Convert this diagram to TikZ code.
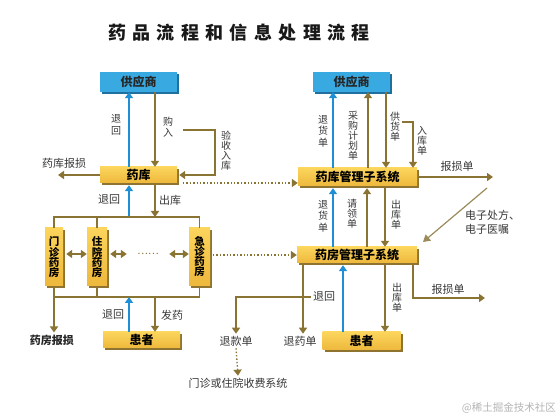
\documentclass[tikz,border=0pt]{standalone}
\usepackage{fontspec}
\setmainfont{Noto Sans CJK SC}
\usetikzlibrary{arrows.meta,shadows}
\definecolor{brn}{HTML}{8A7433}
\definecolor{blu}{HTML}{1E8FD5}
\definecolor{boxb}{HTML}{38A9E1}
\definecolor{shb}{HTML}{1F6F9F}
\definecolor{ytop}{HTML}{FCD55C}
\definecolor{ybot}{HTML}{EDB83C}
\definecolor{shy}{HTML}{8E7430}
\definecolor{lbl}{HTML}{383838}
\definecolor{diagc}{HTML}{9B8B5A}
\definecolor{wm}{HTML}{B4B4B4}
\begin{document}
\begin{tikzpicture}[x=1pt,y=-1pt,
  tip/.style={-{Triangle[width=8pt,length=6pt]}},
  arr/.style={draw=brn, line width=1.8pt, tip},
  bar/.style={draw=blu, line width=1.8pt, tip},
  line/.style={draw=brn, line width=1.8pt},
  dbl/.style={draw=brn, line width=1.8pt, {Triangle[width=8pt,length=6pt]}-{Triangle[width=8pt,length=6pt]}},
  darr/.style={draw=brn, line width=1.4pt, dotted, -{Triangle[width=8pt,length=6pt]}},
  diag/.style={draw=diagc, line width=1.2pt, -{Triangle[width=8pt,length=7pt]}},
  ybox/.style={top color=ytop, bottom color=ybot, draw=none, inner sep=0pt,
    font=\fontsize{12}{12}\selectfont\bfseries, text=black,
    general shadow={fill=shy, shadow xshift=2pt, shadow yshift=-2pt}},
  bbox/.style={fill=boxb, draw=none, inner sep=0pt,
    font=\fontsize{12}{12}\selectfont\bfseries, text=black!85,
    general shadow={fill=shb, shadow xshift=2pt, shadow yshift=-2pt}},
  vbox/.style={ybox, align=center, font=\fontsize{10.5}{10}\selectfont\bfseries},
  lab/.style={font=\fontsize{11}{12}\selectfont, text=lbl, inner sep=2pt},
  vlab/.style={font=\fontsize{10}{11.5}\selectfont, text=lbl, align=center, text width=10pt, inner sep=1pt},
  vlabc/.style={vlab, font=\fontsize{10}{10}\selectfont},
]
\useasboundingbox[fill=white] (0,0) rectangle (558,419);

% title
\node[inner sep=0pt, font=\fontsize{18}{18}\selectfont\bfseries, text=black!90] (title) at (239,33)
  {\makebox[262pt][s]{药\hfill 品\hfill 流\hfill 程\hfill 和\hfill 信\hfill 息\hfill 处\hfill 理\hfill 流\hfill 程}};

% boxes
\node[bbox, minimum width=77pt, minimum height=20pt] (supL) at (138.5,82) {供应商};
\node[ybox, minimum width=77pt, minimum height=16pt] (kuL) at (138.5,175) {药库};
\node[bbox, minimum width=77pt, minimum height=20pt] (supR) at (351.5,82) {供应商};
\node[ybox, minimum width=119pt, minimum height=18pt] (kuSys) at (357.5,177) {药库管理子系统};
\node[ybox, minimum width=120pt, minimum height=16pt] (fangSys) at (357,255) {药房管理子系统};
\node[vbox, minimum width=18pt, minimum height=58pt] (mz) at (54,257) {门\\诊\\药\\房};
\node[vbox, minimum width=20pt, minimum height=58pt] (zy) at (97,257) {住\\院\\药\\房};
\node[vbox, minimum width=21pt, minimum height=58pt] (jz) at (199.5,257) {急\\诊\\药\\房};
\node[ybox, minimum width=77pt, minimum height=16pt] (patL) at (141.5,340) {患者};
\node[ybox, minimum width=78pt, minimum height=18pt] (patR) at (361.5,341) {患者};

% plain text nodes
\node[lab] (kbs) at (64,163) {药库报损};
\node[lab, font=\fontsize{11}{12}\selectfont\bfseries, text=black!85] (yfbs) at (52,340) {药房报损};
\node[lab] (tuiyao) at (300,341) {退药单};
\node[lab] (tuikuan) at (236,341) {退款单};
\node[lab] (fee) at (238,383) {门诊或住院收费系统};
\node[lab] (lr) at (324,297) {退回};
\node[inner sep=0pt, minimum width=42pt, text=brn, font=\fontsize{10}{10}\selectfont] (dots) at (148,254) {……};

% labels
\node[vlab] at (116,125) {退\\回};
\node[vlab] at (168,127) {购\\入};
\node[vlabc] at (226,151) {验\\收\\入\\库};
\node[vlab] at (323,131) {退\\货\\单};
\node[vlabc] at (353,136) {采\\购\\计\\划\\单};
\node[vlabc] at (395,127) {供\\货\\单};
\node[vlabc] at (422,141) {入\\库\\单};
\node[lab] at (457,166) {报损单};
\node[vlab] at (323,216) {退\\货\\单};
\node[vlabc] at (352,214) {请\\领\\单};
\node[vlabc] at (396,215) {出\\库\\单};
\node[lab, anchor=west, align=left, font=\fontsize{11}{14}\selectfont] at (463,222) {电子处方、\\电子医嘱};
\node[vlabc] at (397,298) {出\\库\\单};
\node[lab] at (448,289) {报损单};
\node[lab] at (109,200) {退回};
\node[lab] at (170,200) {出库};
\node[lab] at (113,315) {退回};
\node[lab] at (172,315) {发药};
\node[font=\fontsize{10.5}{12}\selectfont, text=wm, anchor=east, inner sep=0pt] (wmk) at (556,408) {@稀土掘金技术社区};

% helper coordinates
\coordinate (xa) at (129,0);
\coordinate (xb) at (155,0);
\coordinate (r1) at (333,0);
\coordinate (r2) at (368,0);
\coordinate (r3) at (386,0);
\coordinate (r4) at (413,0);
\coordinate (r2b) at (367,0);
\coordinate (r3b) at (385,0);
\coordinate (s1) at (303,0);
\coordinate (s2) at (343,0);
\coordinate (bt) at (0,217);
\coordinate (bb) at (0,297);

% left top
\draw[bar] (kuL.north -| xa) -- (supL.south -| xa);
\draw[arr] (supL.south -| xb) -- (kuL.north -| xb);
\coordinate (ys) at (183,130);
\draw[arr] (ys) -- (215,130) |- ([xshift=2pt]kuL.east);
\coordinate (kbsEnd) at (58,175);
\draw[arr] (kuL.west) -- (kbsEnd);
\coordinate (d1) at (183,183);
\draw[darr] (d1) -- (d1 -| kuSys.west);

% right top
\draw[bar] (kuSys.north -| r1) -- (supR.south -| r1);
\draw[arr] (kuSys.north -| r2) -- (supR.south -| r2);
\draw[arr] (supR.south -| r3) -- (kuSys.north -| r3);
\coordinate (rk) at (402,122);
\draw[arr] (rk) -| (kuSys.north -| r4);
\coordinate (bs1) at (493,177);
\draw[arr] ([xshift=2pt]kuSys.east) -- (bs1);

% middle right
\draw[bar] (fangSys.north -| r1) -- ([yshift=-2pt]kuSys.south -| r1);
\draw[arr] (fangSys.north -| r2b) -- ([yshift=-2pt]kuSys.south -| r2b);
\draw[arr] ([yshift=-2pt]kuSys.south -| r3b) -- (fangSys.north -| r3b);
\coordinate (eS) at (487,188);
\coordinate (eE) at (423,242);
\draw[diag] (eS) -- (eE);
\coordinate (d2) at (213,255);
\draw[darr] (d2) -- (d2 -| fangSys.west);

% lower right
\draw[arr] ([yshift=-2pt]fangSys.south -| s1) -- (tuiyao.north -| s1);
\draw[arr] (lr.west) -| (tuikuan.north);
\draw[bar] (patR.north -| s2) -- ([yshift=-2pt]fangSys.south -| s2);
\draw[arr] ([yshift=-2pt]fangSys.south -| r3b) -- (patR.north -| r3b);
\coordinate (bs2) at (485,298);
\draw[arr] ([yshift=-2pt]fangSys.south -| r4) |- (bs2);
\draw[darr] (tuikuan.south) -- (fee.north);

% left middle
\coordinate (bta) at (xa |- bt);
\draw[bar] (bta) -- ([yshift=-2pt]kuL.south -| xa);
\draw[arr] ([yshift=-2pt]kuL.south -| xb) -- (xb |- bt);
\draw[line] (mz.north) -- (mz.north |- bt) -- (jz.north |- bt) -- (jz.north);
\draw[line] (zy.north) -- (zy.north |- bt);
\draw[dbl] ([xshift=3pt,yshift=3pt]mz.east) -- ([yshift=3pt]zy.west);
\draw[dbl] ([xshift=3pt,yshift=3pt]zy.east) -- (dots.west);
\draw[dbl] (dots.east) -- ([yshift=3pt]jz.west);

% left bottom
\draw[line] ([yshift=-2pt]mz.south) -- (mz.south |- bb) -- (jz.south |- bb) -- ([yshift=-2pt]jz.south);
\draw[line] ([yshift=-2pt]zy.south) -- (zy.south |- bb);
\draw[arr] (mz.south |- bb) -- (mz.south |- yfbs.north);
\draw[bar] (patL.north -| xa) -- (xa |- bb);
\draw[arr] (xb |- bb) -- (patL.north -| xb);
\end{tikzpicture}
\end{document}
